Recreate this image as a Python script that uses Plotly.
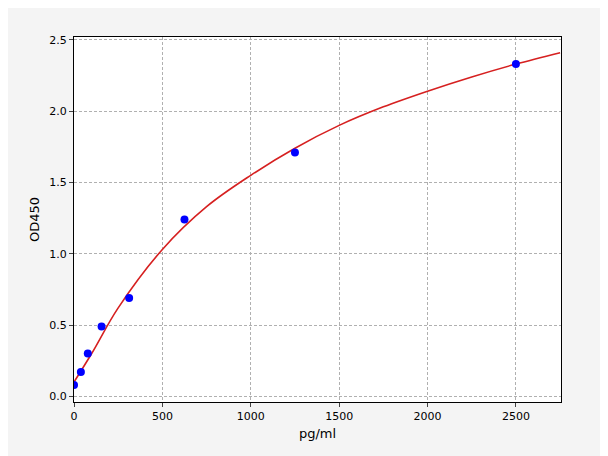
import plotly.graph_objects as go

# standard points
conc = [0, 39, 78, 156, 312, 625, 1250, 2500]
od = [0.08, 0.17, 0.30, 0.49, 0.69, 1.24, 1.71, 2.33]

# fitted curve
curve_x = [0, 100, 250, 500, 750, 1000, 1250, 1500, 1750, 2000, 2250, 2500, 2750]
curve_y = [0.10, 0.30, 0.62, 1.03, 1.33, 1.55, 1.74, 1.90, 2.03, 2.14, 2.24, 2.33, 2.41]

fig = go.Figure()
fig.add_trace(go.Scatter(x=curve_x, y=curve_y, mode='lines', line=dict(color='#d62020', width=1.6, shape='spline')))
fig.add_trace(go.Scatter(x=conc, y=od, mode='markers', marker=dict(color='#0000ff', size=8)))

axis = dict(showline=True, mirror=True, linecolor='black', linewidth=1, ticks='outside', ticklen=4,
            gridcolor='#b0b0b0', griddash='3px,2px', zeroline=False, tickfont=dict(size=11, color='black'))
fig.update_layout(
    width=608, height=456, showlegend=False,
    paper_bgcolor='#f4f4f4', plot_bgcolor='white',
    margin=dict(l=66, r=55, t=29, b=62),
    font=dict(family='DejaVu Sans', size=11, color='black'),
    xaxis=dict(axis, range=[0, 2755], tickvals=[0, 500, 1000, 1500, 2000, 2500],
               title=dict(text='pg/ml', standoff=6)),
    yaxis=dict(axis, range=[-0.04, 2.52], tickvals=[0, 0.5, 1, 1.5, 2, 2.5], tickformat='.1f',
               title=dict(text='OD450', standoff=6)),
)
fig.write_html("out.html")
